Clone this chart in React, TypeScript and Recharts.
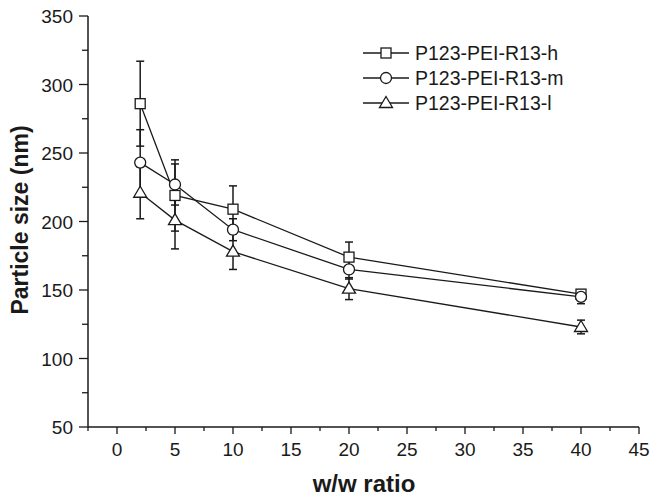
import { LineChart, Line, XAxis, YAxis, ErrorBar, Label } from 'recharts';

const ratios = [2, 5, 10, 20, 40];
const sizeH = [286, 219, 209, 174, 147];
const errH = [31, 26, 17, 11, 3];
const sizeM = [243, 227, 194, 165, 145];
const errM = [24, 15, 8, 7, 5];
const sizeL = [221, 201, 178, 151, 123];
const errL = [19, 21, 13, 8, 5];

const seriesNames = ['P123-PEI-R13-h', 'P123-PEI-R13-m', 'P123-PEI-R13-l'];

const xMajorTicks = [0, 5, 10, 15, 20, 25, 30, 35, 40, 45];
const xMinorTicks = [-2.5, 2.5, 7.5, 12.5, 17.5, 22.5, 27.5, 32.5, 37.5, 42.5];
const yMajorTicks = [50, 100, 150, 200, 250, 300, 350];
const yMinorTicks = [75, 125, 175, 225, 275, 325];

const data = ratios.map((r, i) => ({
  ratio: r,
  h: sizeH[i],
  hErr: errH[i],
  m: sizeM[i],
  mErr: errM[i],
  l: sizeL[i],
  lErr: errL[i],
}));

const INK = '#1a1a1a';
const FONT = '"Liberation Sans", Arial, sans-serif';

const Square = ({ cx, cy }: any) => (
  <rect x={cx - 5} y={cy - 5} width={10} height={10} fill="#fff" stroke={INK} strokeWidth={1.3} />
);
const Circle = ({ cx, cy }: any) => (
  <circle cx={cx} cy={cy} r={5.5} fill="#fff" stroke={INK} strokeWidth={1.3} />
);
const Triangle = ({ cx, cy }: any) => (
  <polygon
    points={`${cx},${cy - 6.5} ${cx + 6.5},${cy + 4.5} ${cx - 6.5},${cy + 4.5}`}
    fill="#fff"
    stroke={INK}
    strokeWidth={1.3}
  />
);

const shapes = [Square, Circle, Triangle];

const XTick = ({ x, y, payload }: any) => {
  const major = xMajorTicks.includes(payload.value);
  return (
    <g>
      <line x1={x} x2={x} y1={y} y2={y + (major ? 7 : 4)} stroke={INK} strokeWidth={1.3} />
      {major && (
        <text x={x} y={y + 29} textAnchor="middle" fontSize={19} fontFamily={FONT} fill={INK}>
          {payload.value}
        </text>
      )}
    </g>
  );
};

const YTick = ({ x, y, payload }: any) => {
  const major = yMajorTicks.includes(payload.value);
  return (
    <g>
      <line x1={x} x2={x - (major ? 9 : 6)} y1={y} y2={y} stroke={INK} strokeWidth={1.3} />
      {major && (
        <text x={x - 15} y={y + 7} textAnchor="end" fontSize={19} fontFamily={FONT} fill={INK}>
          {payload.value}
        </text>
      )}
    </g>
  );
};

const ChartLegend = () => (
  <div style={{ position: 'absolute', left: 360, top: 40 }}>
    <svg width={220} height={80}>
      {seriesNames.map((name, i) => {
        const Shape = shapes[i];
        const cy = 13 + i * 25;
        return (
          <g key={name}>
            <line x1={3} x2={49} y1={cy} y2={cy} stroke={INK} strokeWidth={1.3} />
            <Shape cx={26} cy={cy} />
            <text x={55} y={cy + 7} fontSize={19.5} fontFamily={FONT} fill={INK}>
              {name}
            </text>
          </g>
        );
      })}
    </svg>
  </div>
);

const App = () => {
  const keys = ['h', 'm', 'l'];
  return (
    <div style={{ position: 'absolute', left: 0, top: 0, width: 658, height: 501, background: '#fff' }}>
      <LineChart
        width={658}
        height={501}
        data={data}
        margin={{ top: 16, right: 19, bottom: 0, left: 0 }}
        style={{ fontFamily: FONT }}
      >
        <XAxis
          dataKey="ratio"
          type="number"
          domain={[-2.5, 45]}
          ticks={[...xMinorTicks, ...xMajorTicks].sort((a, b) => a - b)}
          interval={0}
          height={74}
          tickSize={0}
          tickMargin={0}
          tick={<XTick />}
          axisLine={{ stroke: INK, strokeWidth: 1.5 }}
          tickLine={false}
        >
          <Label
            content={() => (
              <text x={364} y={492} textAnchor="middle" fontSize={24} fontWeight="bold" fontFamily={FONT} fill={INK}>
                w/w ratio
              </text>
            )}
          />
        </XAxis>
        <YAxis
          type="number"
          domain={[50, 350]}
          ticks={[...yMinorTicks, ...yMajorTicks].sort((a, b) => a - b)}
          interval={0}
          width={88}
          tickSize={0}
          tickMargin={0}
          tick={<YTick />}
          axisLine={{ stroke: INK, strokeWidth: 1.5 }}
          tickLine={false}
        >
          <Label
            content={() => (
              <text
                x={0}
                y={0}
                transform="translate(28, 220) rotate(-90)"
                textAnchor="middle"
                fontSize={23}
                fontWeight="bold"
                fontFamily={FONT}
                fill={INK}
              >
                Particle size (nm)
              </text>
            )}
          />
        </YAxis>
        {keys.map((k, i) => {
          const Shape = shapes[i];
          return (
            <Line
              key={k}
              dataKey={k}
              stroke={INK}
              strokeWidth={1.3}
              isAnimationActive={false}
              dot={(p: any) => <Shape key={`${k}-${p.index}`} cx={p.cx} cy={p.cy} />}
              activeDot={false}
            />
          );
        })}
        {keys.map((k) => (
          <Line
            key={`${k}-err`}
            dataKey={k}
            stroke="none"
            dot={false}
            activeDot={false}
            legendType="none"
            isAnimationActive={false}
          >
            <ErrorBar dataKey={`${k}Err`} direction="y" width={4} stroke={INK} strokeWidth={1.5} />
          </Line>
        ))}
      </LineChart>
      <ChartLegend />
    </div>
  );
};

export default App;
